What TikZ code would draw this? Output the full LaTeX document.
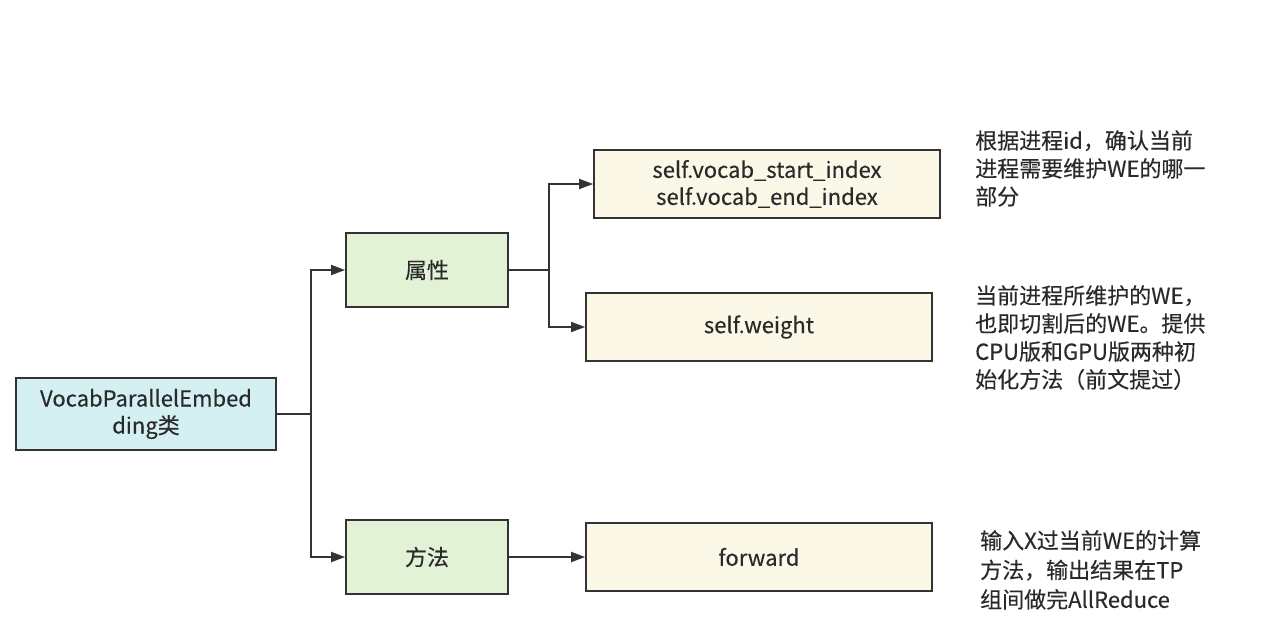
\documentclass[tikz,border=0pt]{standalone}
\usepackage{fontspec}
\setmainfont{Noto Sans CJK SC}[FakeBold=0.35]
\usetikzlibrary{arrows.meta}
\definecolor{edge}{HTML}{333333}
\definecolor{txt}{HTML}{2A2A2A}
\definecolor{cyanfill}{HTML}{D4F0F3}
\definecolor{greenfill}{HTML}{E2F2D7}
\definecolor{creamfill}{HTML}{FBF8E8}
\tikzset{
  box/.style={draw=edge, line width=1.8pt, text=txt, align=center, inner sep=0pt,
    font=\fontsize{22}{27}\selectfont},
  rootbox/.style={box, fill=cyanfill, minimum width=260pt, minimum height=72pt},
  catbox/.style={box, fill=greenfill, minimum width=162pt, minimum height=74pt},
  leafbox/.style={box, fill=creamfill, minimum height=68pt},
  note/.style={anchor=north west, align=left, inner sep=0pt, text=txt,
    font=\fontsize{22}{28}\selectfont},
  conn/.style={draw=edge, line width=1.8pt},
  arr/.style={conn, -{Triangle[length=14pt,width=10pt]}}
}
\begin{document}
\begin{tikzpicture}[x=1pt,y=-1pt]
\useasboundingbox (0,0) rectangle (1280,622);
\node[rootbox] (vpe) at (146,414) {VocabParallelEmbed\\ding类};
\node[catbox] (attr) at (427,270) {属性};
\node[catbox] (meth) at (427,557) {方法};
\node[leafbox, minimum width=346pt] (idx) at (767,184) {self.vocab\_start\_index\\self.vocab\_end\_index};
\node[leafbox, minimum width=346pt] (wt) at (759,327) {self.weight};
\node[leafbox, minimum width=346pt] (fwd) at (759,557) {forward};
\coordinate (trunk) at (311,414);
\coordinate (br) at (549,270);
\draw[conn] (vpe.east) -- (trunk);
\draw[arr] (trunk) |- (attr.west);
\draw[arr] (trunk) |- (meth.west);
\draw[conn] (attr.east) -- (br);
\draw[arr] (br) |- (idx.west);
\draw[arr] (br) |- (wt.west);
\draw[arr] (meth.east) -- (fwd.west);
\node[note] (n1) at (975,130) {根据进程id，确认当前\\进程需要维护WE的哪一\\部分};
\node[note] (n2) at (975,285) {当前进程所维护的WE，\\也即切割后的WE。提供\\CPU版和GPU版两种初\\始化方法（前文提过）};
\node[note, font=\fontsize{22}{29.5}\selectfont] (n3) at (980,530) {输入X过当前WE的计算\\方法，输出结果在TP\\组间做完AllReduce};
\end{tikzpicture}
\end{document}
